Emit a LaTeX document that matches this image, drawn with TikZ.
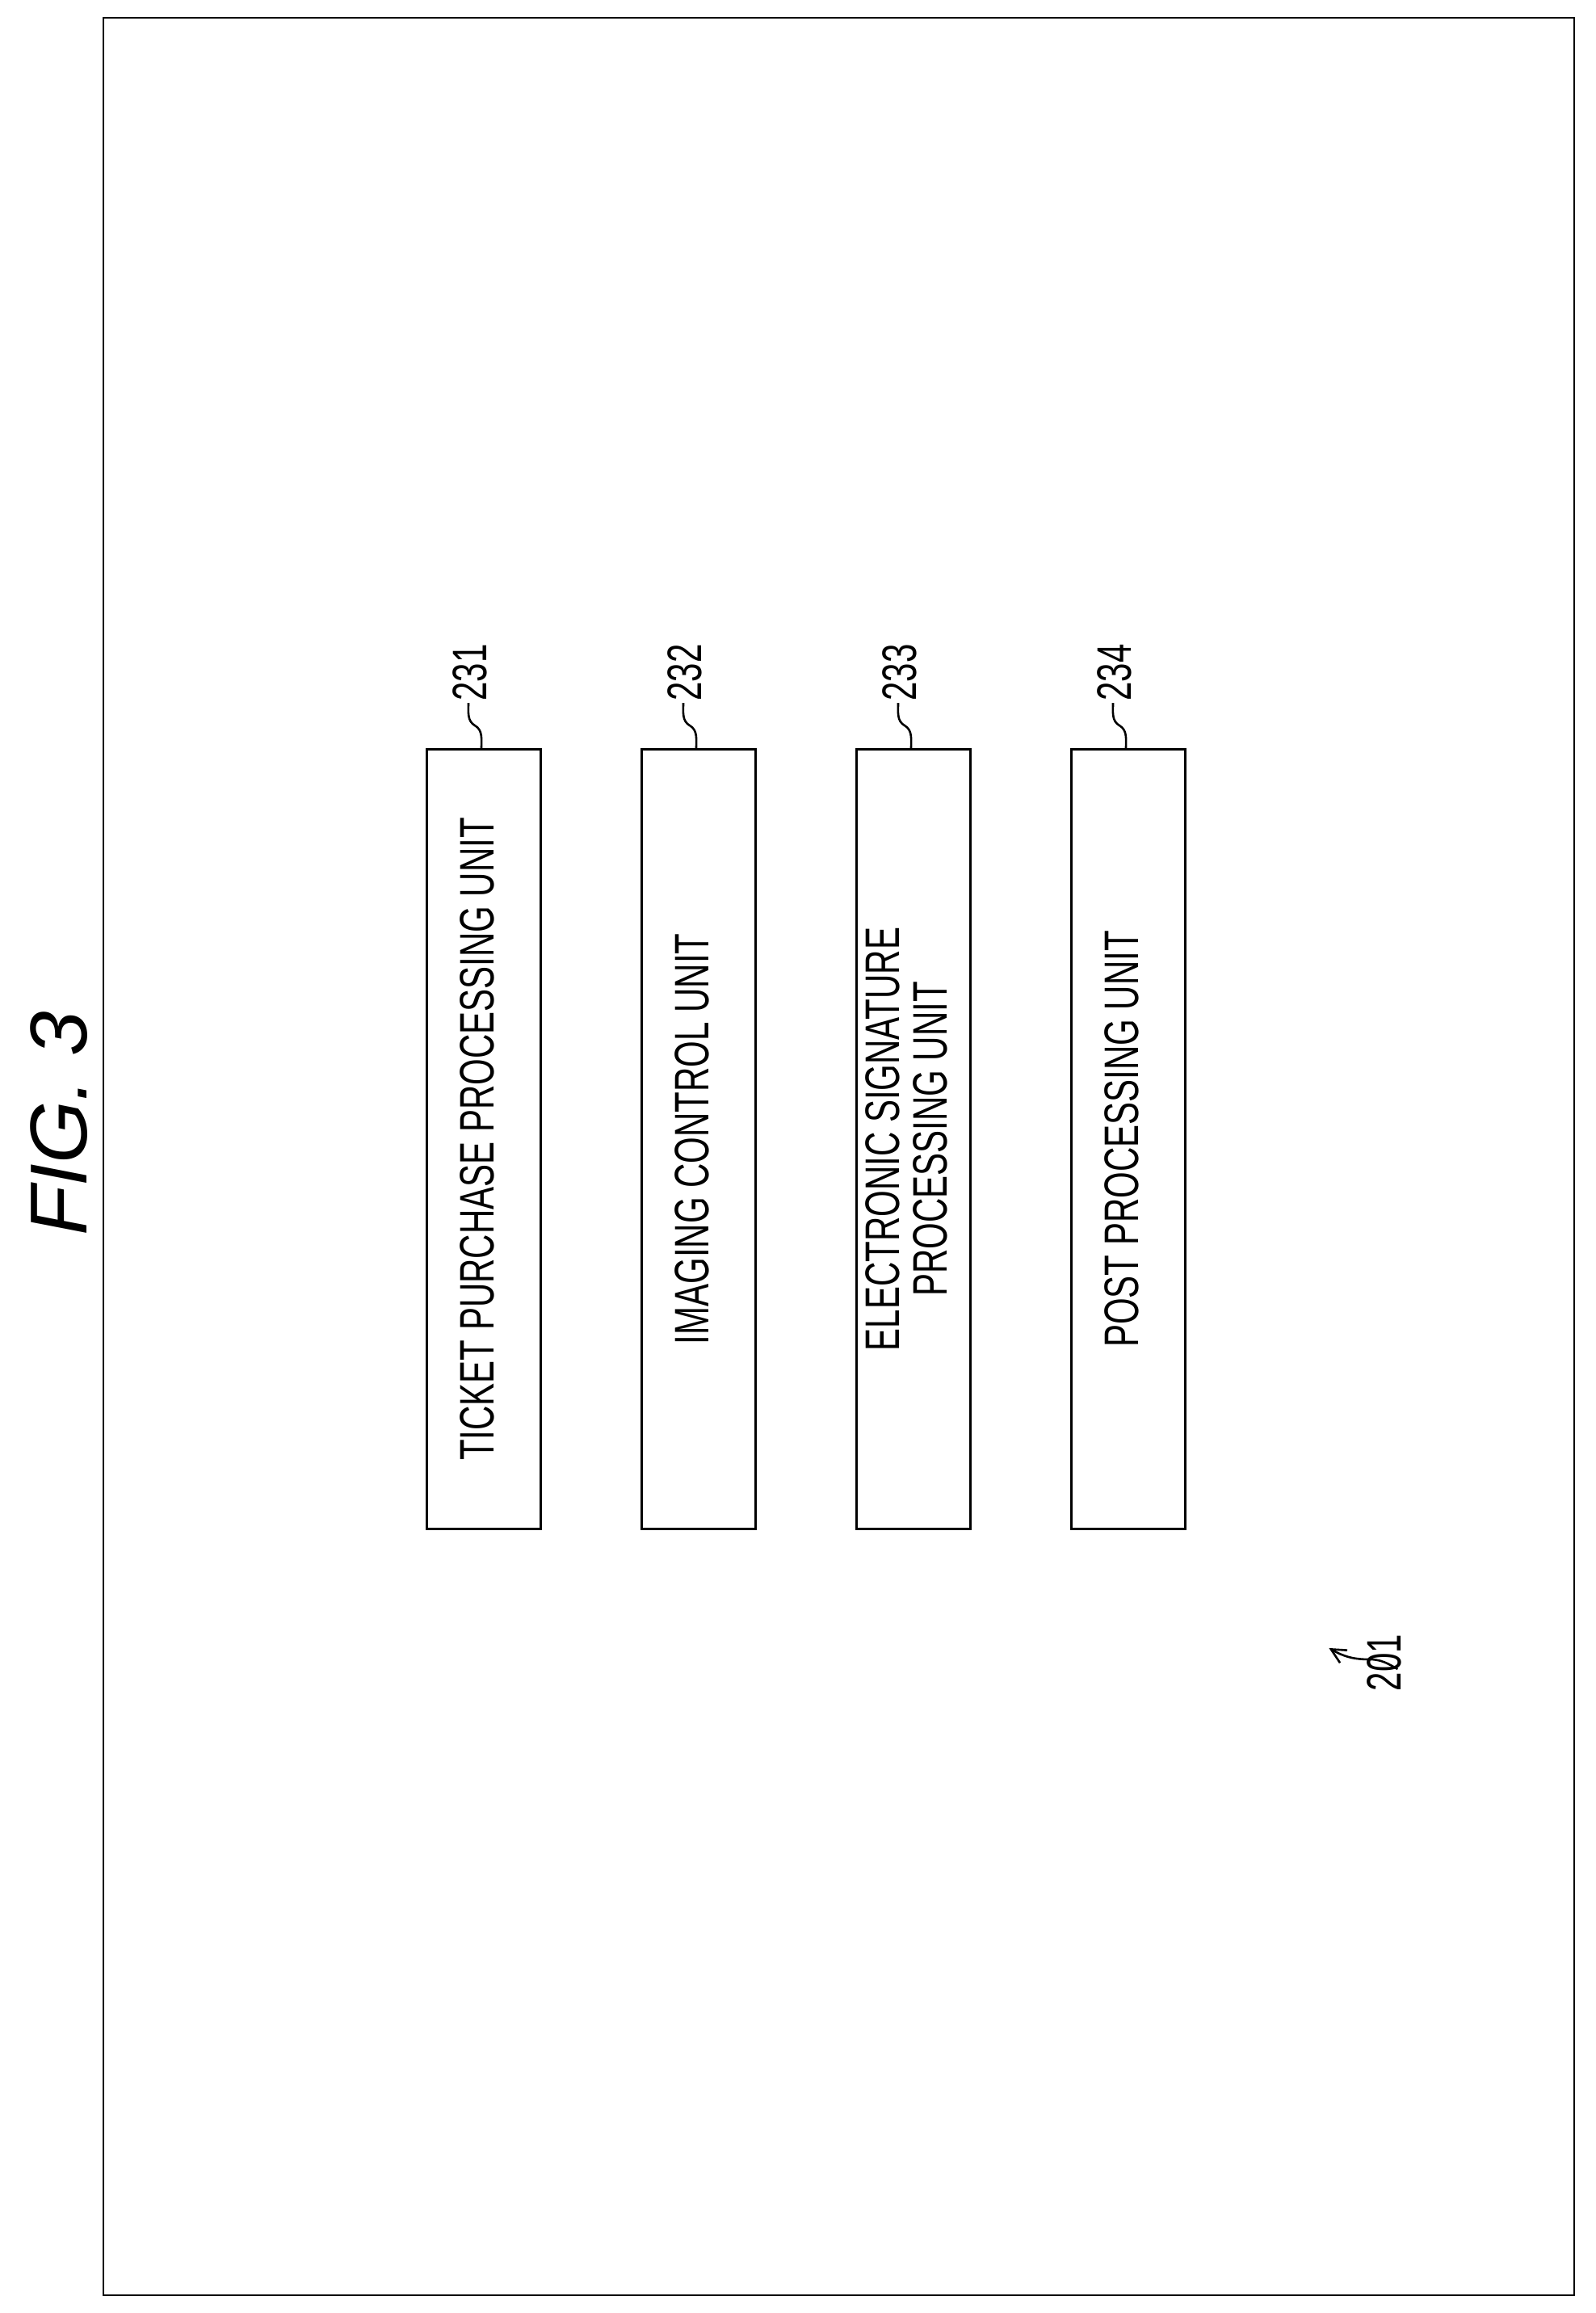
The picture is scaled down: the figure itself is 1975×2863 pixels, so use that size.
\documentclass[tikz,border=0pt]{standalone}
\usepackage{fontspec}
\setmainfont{Liberation Sans}
\usetikzlibrary{arrows.meta}
\newcommand{\nt}[1]{\scalebox{0.7}[1]{\begin{tabular}{@{}c@{}}#1\end{tabular}}}
\tikzset{
  unitbox/.style={draw, line width=1.4pt, rotate=90, minimum width=482.5pt, minimum height=70.5pt, inner sep=0pt, font=\fontsize{30}{29}\selectfont},
  reflbl/.style={rotate=90, anchor=west, inner sep=0pt, font=\fontsize{30}{30}\selectfont},
  lead/.style={line width=1.3pt}
}
\begin{document}
\begin{tikzpicture}[x=0.5pt,y=0.5pt]
\useasboundingbox (0,0) rectangle (1975,2863);
\draw[line width=1.4pt] (128,22) rectangle (1949,2841);
\node[rotate=90, font=\fontsize{50}{50}\selectfont\itshape] (fig) at (73,1472) {FIG. 3};
\foreach \i/\x/\t in {1/599/{TICKET PURCHASE PROCESSING UNIT},2/865/{IMAGING CONTROL UNIT},3/1131/{ELECTRONIC SIGNATURE\\PROCESSING UNIT},4/1397/{POST PROCESSING UNIT}}{
  \node[unitbox] (b\i) at (\x,1453) {\nt{\t}};
}
\foreach \i/\n in {1/231,2/232,3/233,4/234}{
  \draw[lead] ([xshift=-1.5pt]b\i.east) to[out=90,in=-30] ++(-8,28) to[out=150,in=-90] ++(-8,28) coordinate (t\i);
  \node[reflbl] (l\i) at ([xshift=5pt,yshift=1pt]t\i) {\nt{\n}};
}
\node[rotate=90, inner sep=0pt, font=\fontsize{30}{30}\selectfont] (r201) at (1722,805) {\nt{201}};
\draw[lead, -{Straight Barb[length=9pt,width=9pt]}] (r201.south) ++(-22,-8) coordinate (a0) to[out=150,in=0] ++(-35,12) to[out=180,in=-30] ++(-50,14) coordinate (a1);
\end{tikzpicture}
\end{document}
